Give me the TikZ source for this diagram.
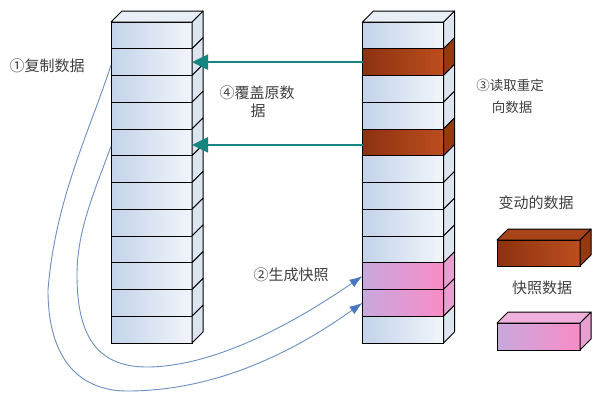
\documentclass[tikz,border=0pt]{standalone}
\usepackage{fontspec}
\newfontfamily\cjk{Noto Sans CJK SC}
\usetikzlibrary{arrows.meta}
\definecolor{boxL}{HTML}{C3D3EA}
\definecolor{boxR}{HTML}{F2F5FA}
\definecolor{boxS}{HTML}{DCE4F0}
\definecolor{boxT}{HTML}{E8EEF6}
\definecolor{brL}{HTML}{8C3210}
\definecolor{brR}{HTML}{BC4E1E}
\definecolor{brS}{HTML}{973812}
\definecolor{brT}{HTML}{A8441A}
\definecolor{pkL}{HTML}{C8A8DE}
\definecolor{pkR}{HTML}{F88CC6}
\definecolor{pkS}{HTML}{E8A0D2}
\definecolor{pkT}{HTML}{EFB0DC}
\definecolor{tealc}{HTML}{17857F}
\definecolor{curvec}{HTML}{6A8FC0}
\definecolor{tipc}{HTML}{4A78C0}
\definecolor{txt}{HTML}{404040}
\tikzset{
  face/.style={draw=black, line width=1pt, line join=round},
  cell/.style={draw=black, line width=1pt, inner sep=0pt, outer sep=0pt,
               minimum width=81pt, minimum height=26.75pt},
  box/.style={left color=boxL, right color=boxR},
  br/.style={left color=brL, right color=brR},
  pk/.style={left color=pkL, right color=pkR},
  lbl/.style={text=txt, font=\cjk\fontsize{15}{18}\selectfont, inner sep=0pt},
  lblsmall/.style={text=txt, font=\cjk\fontsize{13.5}{16}\selectfont, inner sep=0pt},
  tealarrow/.style={draw=tealc, line width=2.5pt, -{Triangle[length=16pt,width=15pt]}},
  copyarrow/.style={draw=curvec, line width=0.9pt, -{Latex[length=13pt,width=9pt,color=tipc]}},
}
% #1 name, #2 x center, #3 y center, #4 kind (box/br/pk)
\newcommand\cellrow[4]{%
  \node[cell,#4] (#1) at (#2,#3) {};
  \draw[face,fill=#4S] (#1.north east) -- ++(11,-11) -- ([shift={(11,-11)}]#1.south east) -- (#1.south east) -- cycle;
}
\begin{document}
\begin{tikzpicture}[x=1pt,y=-1pt]
\useasboundingbox[fill=white] (0,0) rectangle (600,400);

% left stack
\foreach \n in {1,...,12}{
  \pgfmathsetmacro\yc{22+(\n-0.5)*26.75}
  \edef\tmp{\noexpand\cellrow{L\n}{151.5}{\yc}{box}}\tmp
}
\draw[face,fill=boxT] (L1.north west) -- ++(11,-11) -- ++(81,0) -- (L1.north east) -- cycle;

% right stack
\foreach \n/\k in {1/box,2/br,3/box,4/box,5/br,6/box,7/box,8/box,9/box,10/pk,11/pk,12/box}{
  \pgfmathsetmacro\yc{22+(\n-0.5)*26.75}
  \edef\tmp{\noexpand\cellrow{R\n}{403}{\yc}{\k}}\tmp
}
\draw[face,fill=boxT] (R1.north west) -- ++(11,-11) -- ++(81,0) -- (R1.north east) -- cycle;

% legend boxes
\node[cell,br,minimum width=83pt,minimum height=26pt] (legBr) at (538.5,253) {};
\draw[face,fill=brS] (legBr.north east) -- ++(11,-11) -- ([shift={(11,-11)}]legBr.south east) -- (legBr.south east) -- cycle;
\draw[face,fill=brT] (legBr.north west) -- ++(11,-11) -- ++(83,0) -- (legBr.north east) -- cycle;
\node[cell,pk,minimum width=83pt,minimum height=27pt] (legPk) at (538.5,336.5) {};
\draw[face,fill=pkS] (legPk.north east) -- ++(11,-11) -- ([shift={(11,-11)}]legPk.south east) -- (legPk.south east) -- cycle;
\draw[face,fill=pkT] (legPk.north west) -- ++(11,-11) -- ++(83,0) -- (legPk.north east) -- cycle;

% overwrite arrows
\draw[tealarrow] (R2.west) -- (L2.east);
\draw[tealarrow] ([yshift=-2.5pt]R5.west) -- ([yshift=-2.5pt]L5.east);

% copy curves
\coordinate (srcA) at ([yshift=-3pt]L2.west);
\coordinate (srcB) at ([yshift=-4pt]L5.west);
\draw[copyarrow] (srcA) .. controls (90,130) and (55,200) .. (48,290)
   .. controls (48,360) and (80,392) .. (130,391)
   .. controls (230,390) and (310,340) .. (R11.west);
\draw[copyarrow] (srcB) .. controls (95,190) and (77,230) .. (77,275)
   .. controls (77,340) and (100,368) .. (150,367)
   .. controls (230,365) and (320,305) .. (R10.west);

% labels
\node[lbl] (t1) at (47,66) {①复制数据};
\node[lbl] (t4a) at (257,93) {④覆盖原数};
\node[lbl] (t4b) at (258,111) {据};
\node[lblsmall] (t3a) at (510,85) {③读取重定};
\node[lblsmall] (t3b) at (512,107) {向数据};
\node[lbl] (t2) at (291,275) {②生成快照};
\node[lbl] (tb) at (536,203) {变动的数据};
\node[lbl] (tp) at (542,288) {快照数据};
\end{tikzpicture}
\end{document}
